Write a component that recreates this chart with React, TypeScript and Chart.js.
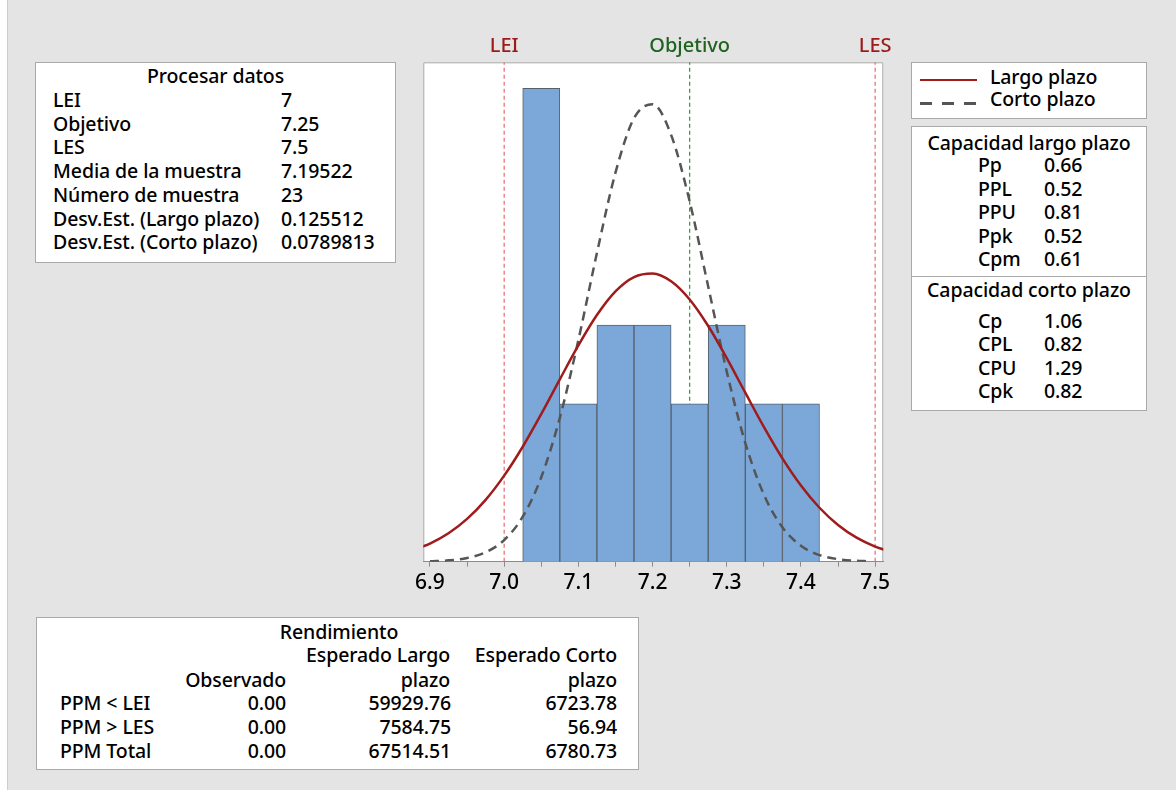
import React, { useEffect, useRef } from 'react';
import { Chart, registerables } from 'chart.js';

Chart.register(...registerables);

// ---------- data ----------
const binCenters = [7.05, 7.1, 7.15, 7.2, 7.25, 7.3, 7.35, 7.4];
const binCounts = [6, 2, 3, 3, 2, 3, 2, 2];

const longX = [6.875, 6.9, 6.925, 6.95, 6.975, 7.0, 7.025, 7.05, 7.075, 7.1, 7.125, 7.15, 7.175, 7.2, 7.225, 7.25, 7.275, 7.3, 7.325, 7.35, 7.375, 7.4, 7.425, 7.45, 7.475, 7.5, 7.525];
const longTermY = [0.141, 0.23, 0.36, 0.542, 0.784, 1.091, 1.457, 1.872, 2.311, 2.741, 3.126, 3.426, 3.608, 3.653, 3.554, 3.323, 2.987, 2.58, 2.142, 1.709, 1.31, 0.966, 0.684, 0.466, 0.305, 0.192, 0.116];

const shortX = [6.9, 6.925, 6.95, 6.975, 7.0, 7.025, 7.05, 7.075, 7.1, 7.125, 7.15, 7.175, 7.2, 7.225, 7.25, 7.275, 7.3, 7.325, 7.35, 7.375, 7.4, 7.425, 7.45, 7.475, 7.49];
const shortTermY = [0.005, 0.017, 0.047, 0.119, 0.274, 0.57, 1.071, 1.824, 2.808, 3.912, 4.931, 5.621, 5.798, 5.41, 4.567, 3.488, 2.409, 1.506, 0.851, 0.436, 0.202, 0.084, 0.032, 0.011, 0.006];

const specValues = [7.0, 7.25, 7.5];
const specLabels = ['LEI', 'Objetivo', 'LES'];

const xTickValues = [6.9, 6.95, 7.0, 7.05, 7.1, 7.15, 7.2, 7.25, 7.3, 7.35, 7.4, 7.45, 7.5];
const xTickLabels = ['6.9', '', '7.0', '', '7.1', '', '7.2', '', '7.3', '', '7.4', '', '7.5'];

const processLabels = ['LEI', 'Objetivo', 'LES', 'Media de la muestra', 'Número de muestra', 'Desv.Est. (Largo plazo)', 'Desv.Est. (Corto plazo)'];
const processValues = ['7', '7.25', '7.5', '7.19522', '23', '0.125512', '0.0789813'];

const longCapLabels = ['Pp', 'PPL', 'PPU', 'Ppk', 'Cpm'];
const longCapValues = ['0.66', '0.52', '0.81', '0.52', '0.61'];
const shortCapLabels = ['Cp', 'CPL', 'CPU', 'Cpk'];
const shortCapValues = ['1.06', '0.82', '1.29', '0.82'];

const perfRowLabels = ['PPM < LEI', 'PPM > LES', 'PPM Total'];
const perfObserved = ['0.00', '0.00', '0.00'];
const perfExpLong = ['59929.76', '7584.75', '67514.51'];
const perfExpShort = ['6723.78', '56.94', '6780.73'];

// ---------- styles ----------
const FONT = "'Segoe UI', 'Noto Sans', sans-serif";
const LONG_COLOR = '#a01c1c';
const SHORT_COLOR = '#555555';
const SPEC_RED = '#e8686c';
const SPEC_GREEN = '#22a022';
const specLineColors = [SPEC_RED, SPEC_GREEN, SPEC_RED];
const specTextColors = ['#9b1b1b', '#1f6320', '#9b1b1b'];

const txt = (extra: React.CSSProperties): React.CSSProperties => ({
  position: 'absolute',
  fontFamily: FONT,
  fontSize: 19.5,
  fontWeight: 500,
  letterSpacing: '-0.1px',
  lineHeight: '24px',
  color: '#000',
  whiteSpace: 'nowrap',
  ...extra,
});

const boxStyle = (left: number, top: number, width: number, height: number): React.CSSProperties => ({
  position: 'absolute',
  left,
  top,
  width,
  height,
  background: '#ffffff',
  border: '1px solid #a9a9a9',
  boxSizing: 'border-box',
});

const framePlugin = {
  id: 'frameAndLabels',
  beforeDraw(chart: any) {
    const { ctx, chartArea } = chart;
    ctx.save();
    ctx.fillStyle = '#ffffff';
    ctx.fillRect(chartArea.left, chartArea.top, chartArea.right - chartArea.left, chartArea.bottom - chartArea.top);
    ctx.strokeStyle = '#a6a6a6';
    ctx.lineWidth = 1;
    ctx.beginPath();
    ctx.moveTo(chartArea.left + 0.5, chartArea.bottom);
    ctx.lineTo(chartArea.left + 0.5, chartArea.top + 0.5);
    ctx.lineTo(chartArea.right - 0.5, chartArea.top + 0.5);
    ctx.lineTo(chartArea.right - 0.5, chartArea.bottom);
    ctx.stroke();
    ctx.restore();
  },
  afterDraw(chart: any) {
    const { ctx } = chart;
    const xs = chart.scales.x;
    ctx.save();
    ctx.font = `500 20px ${FONT}`;
    ctx.textAlign = 'center';
    ctx.textBaseline = 'middle';
    specValues.forEach((v, i) => {
      ctx.fillStyle = specTextColors[i];
      ctx.fillText(specLabels[i], xs.getPixelForValue(v), 16.5);
    });
    ctx.restore();
  },
};

function CapabilityChart() {
  const ref = useRef<HTMLCanvasElement | null>(null);
  useEffect(() => {
    if (!ref.current) return;
    const yMax = 6.33;
    const specDatasets = specValues.map((v, i) => ({
      type: 'line' as const,
      data: [{ x: v, y: 0 }, { x: v, y: yMax }],
      borderColor: specLineColors[i],
      borderWidth: 1.2,
      borderDash: [4, 3],
      pointRadius: 0,
      fill: false,
      order: 3,
    }));
    const chart = new Chart(ref.current, {
      type: 'bar',
      data: {
        datasets: [
          {
            type: 'line',
            data: longX.map((x, i) => ({ x, y: longTermY[i] })),
            borderColor: LONG_COLOR,
            borderWidth: 2.5,
            pointRadius: 0,
            cubicInterpolationMode: 'monotone',
            fill: false,
            order: 0,
          },
          {
            type: 'line',
            data: shortX.map((x, i) => ({ x, y: shortTermY[i] })),
            borderColor: SHORT_COLOR,
            borderWidth: 2.5,
            borderDash: [9, 6],
            pointRadius: 0,
            cubicInterpolationMode: 'monotone',
            fill: false,
            order: 1,
          },
          {
            type: 'bar',
            data: binCenters.map((x, i) => ({ x, y: binCounts[i] })),
            backgroundColor: '#7ba7d9',
            borderColor: '#56606c',
            borderWidth: 1,
            barPercentage: 1,
            categoryPercentage: 1,
            order: 2,
          },
          ...specDatasets,
        ] as any,
      },
      options: {
        animation: false,
        responsive: false,
        maintainAspectRatio: false,
        layout: { padding: { left: 23.3, right: 16.7, top: 32.3, bottom: 0 } },
        plugins: { legend: { display: false }, tooltip: { enabled: false } },
        scales: {
          x: {
            type: 'linear',
            min: 6.891,
            max: 7.511,
            offset: false,
            afterBuildTicks: (s: any) => {
              s.ticks = xTickValues.map((v) => ({ value: v }));
            },
            afterFit: (s: any) => {
              s.height = 38.3;
            },
            ticks: {
              autoSkip: false,
              maxRotation: 0,
              callback: (_v: any, i: number) => xTickLabels[i],
              font: { size: 21, family: FONT, weight: '500' },
              color: '#000',
              padding: 4,
            },
            grid: { drawOnChartArea: false, offset: false, tickLength: 5, color: '#8c8c8c' },
            border: { color: '#8c8c8c' },
          },
          y: { display: false, min: 0, max: yMax },
        },
      } as any,
      plugins: [framePlugin],
    });
    return () => chart.destroy();
  }, []);
  return (
    <canvas
      ref={ref}
      width={500}
      height={570}
      style={{ position: 'absolute', left: 400, top: 30, width: 500, height: 570 }}
    />
  );
}

export default function App() {
  const rowStep = 23.7;
  return (
    <div style={{ position: 'fixed', left: 0, top: 0, width: 1176, height: 790, background: '#ffffff', overflow: 'hidden' }}>
      <div style={{ position: 'absolute', left: 7, top: 0, width: 1169, height: 790, background: '#e4e4e4', borderLeft: '1px solid #cdcdcd', boxSizing: 'border-box' }} />

      {/* Procesar datos */}
      <div style={boxStyle(35, 62, 361, 201)} />
      <div style={txt({ left: 35, width: 361, top: 64, textAlign: 'center' })}>Procesar datos</div>
      {processLabels.map((l, i) => (
        <React.Fragment key={l}>
          <div style={txt({ left: 53, top: 88 + rowStep * i })}>{l}</div>
          <div style={txt({ left: 281, top: 88 + rowStep * i })}>{processValues[i]}</div>
        </React.Fragment>
      ))}

      <CapabilityChart />

      {/* Legend */}
      <div style={boxStyle(911, 62, 236, 57)} />
      <div style={{ position: 'absolute', left: 920, top: 79, width: 57, height: 0, borderTop: `2.5px solid ${LONG_COLOR}` }} />
      <div
        style={{
          position: 'absolute',
          left: 920,
          top: 102,
          width: 57,
          height: 3,
          background: `repeating-linear-gradient(to right, ${SHORT_COLOR} 0px, ${SHORT_COLOR} 12px, transparent 12px, transparent 22px)`,
        }}
      />
      <div style={txt({ left: 990, top: 65 })}>Largo plazo</div>
      <div style={txt({ left: 990, top: 87 })}>Corto plazo</div>

      {/* Capacidad */}
      <div style={boxStyle(911, 126, 236, 285)} />
      <div style={{ position: 'absolute', left: 912, top: 276, width: 234, height: 1, background: '#a9a9a9' }} />
      <div style={txt({ left: 911, width: 236, top: 131, textAlign: 'center' })}>Capacidad largo plazo</div>
      {longCapLabels.map((l, i) => (
        <React.Fragment key={l}>
          <div style={txt({ left: 978, top: 153 + 23.5 * i })}>{l}</div>
          <div style={txt({ left: 1044, top: 153 + 23.5 * i })}>{longCapValues[i]}</div>
        </React.Fragment>
      ))}
      <div style={txt({ left: 911, width: 236, top: 278, textAlign: 'center' })}>Capacidad corto plazo</div>
      {shortCapLabels.map((l, i) => (
        <React.Fragment key={l}>
          <div style={txt({ left: 978, top: 309 + 23.4 * i })}>{l}</div>
          <div style={txt({ left: 1044, top: 309 + 23.4 * i })}>{shortCapValues[i]}</div>
        </React.Fragment>
      ))}

      {/* Rendimiento */}
      <div style={boxStyle(36, 617, 603, 153)} />
      <div style={txt({ left: 239, width: 200, top: 620, textAlign: 'center' })}>Rendimiento</div>
      <div style={txt({ left: 250, width: 200, top: 643, textAlign: 'right' })}>Esperado Largo</div>
      <div style={txt({ left: 417, width: 200, top: 643, textAlign: 'right' })}>Esperado Corto</div>
      <div style={txt({ left: 86, width: 200, top: 668, textAlign: 'right' })}>Observado</div>
      <div style={txt({ left: 250, width: 200, top: 668, textAlign: 'right' })}>plazo</div>
      <div style={txt({ left: 417, width: 200, top: 668, textAlign: 'right' })}>plazo</div>
      {perfRowLabels.map((l, i) => (
        <React.Fragment key={l}>
          <div style={txt({ left: 60, top: 691 + 24 * i })}>{l}</div>
          <div style={txt({ left: 86, width: 200, top: 691 + 24 * i, textAlign: 'right' })}>{perfObserved[i]}</div>
          <div style={txt({ left: 251, width: 200, top: 691 + 24 * i, textAlign: 'right' })}>{perfExpLong[i]}</div>
          <div style={txt({ left: 417, width: 200, top: 691 + 24 * i, textAlign: 'right' })}>{perfExpShort[i]}</div>
        </React.Fragment>
      ))}
    </div>
  );
}
